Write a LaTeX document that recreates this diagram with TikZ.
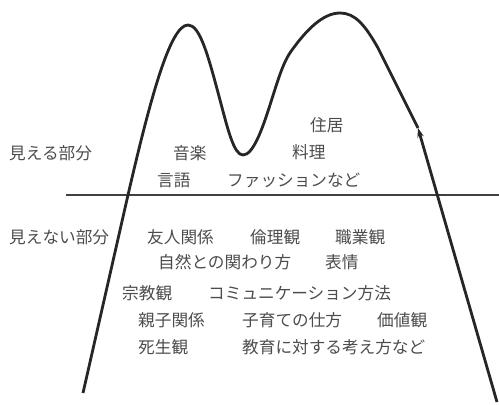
\documentclass[tikz,border=0pt]{standalone}
\usepackage{fontspec}
\setmainfont{Noto Sans CJK JP}
\usetikzlibrary{arrows.meta}
\tikzset{
    lab/.style={anchor=west, inner sep=0pt, text=black!70, font=\fontsize{14.2}{17}\selectfont},
    ridge/.style={line width=2.4pt, draw=black!85, line join=round},
}
\begin{document}
\begin{tikzpicture}[x=0.03cm, y=-0.03cm]
    \newcommand\rowA{237}
    \newcommand\rowB{262}
    \newcommand\rowC{293}
    \newcommand\rowD{320}
    \newcommand\rowE{347}
    \useasboundingbox (0,0) rectangle (499,405);

    % water line
    \draw[line width=2pt, draw=black!75] (66,195) -- (499,195);

    % outline of the two peaks
    \coordinate (tip) at (418,128);
    \draw[ridge] (83,393) -- (128,195) .. controls (150,100) and (170,25) .. (188,25)
        .. controls (200,25) and (208,55) .. (220,100)
        .. controls (228,130) and (234,155) .. (243,155)
        .. controls (253,155) and (262,130) .. (270,105)
        .. controls (278,80) and (283,62) .. (292,50)
        .. controls (305,32) and (322,13) .. (340,13)
        .. controls (355,13) and (365,25) .. (378,48) -- (tip);
    \draw[ridge, -{Stealth[length=8pt, width=5.5pt]}] (497,402) -- (tip);

    % above the line
    \node[lab] (seen) at (9,153) {見える部分};
    \node[lab] (jukyo) at (310,125) {住居};
    \node[lab] (ongaku) at (173,153) {音楽};
    \node[lab] (ryouri) at (292,152) {料理};
    \node[lab] (gengo) at (157,180) {言語};
    \node[lab] (fashion) at (227,180) {ファッションなど};

    % below the line
    \node[lab] (unseen) at (9,\rowA) {見えない部分};
    \node[lab] (yujin) at (147,\rowA) {友人関係};
    \node[lab] (rinri) at (250,\rowA) {倫理観};
    \node[lab] (shokugyo) at (335,\rowA) {職業観};
    \node[lab] (shizen) at (158,\rowB) {自然との関わり方};
    \node[lab] (hyojo) at (325,\rowB) {表情};
    \node[lab] (shukyo) at (122,\rowC) {宗教観};
    \node[lab] (comm) at (208,\rowC) {コミュニケーション方法};
    \node[lab] (oyako) at (138,\rowD) {親子関係};
    \node[lab] (kosodate) at (242,\rowD) {子育ての仕方};
    \node[lab] (kachi) at (377,\rowD) {価値観};
    \node[lab] (shisei) at (138,\rowE) {死生観};
    \node[lab] (kyoiku) at (242,\rowE) {教育に対する考え方など};
\end{tikzpicture}
\end{document}
